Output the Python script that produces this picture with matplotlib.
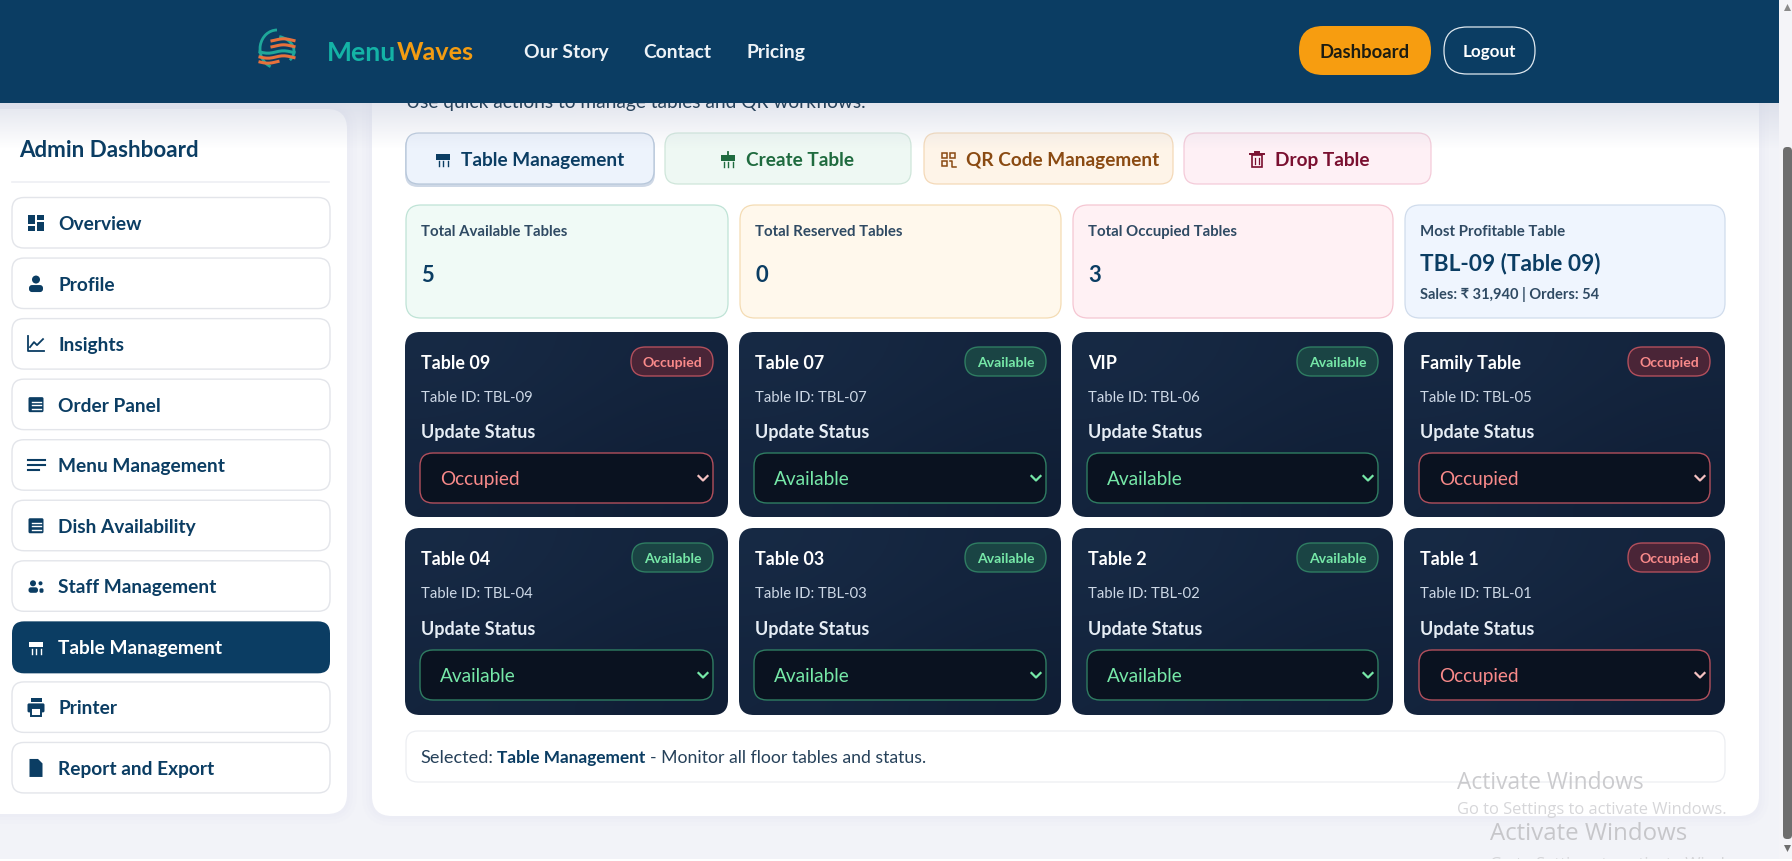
import numpy as np
import matplotlib
matplotlib.use('Agg')
import matplotlib.pyplot as plt
from matplotlib.patches import FancyBboxPatch, Circle, Rectangle, Arc, Polygon

plt.rcParams['font.family'] = ['Lato', 'DejaVu Sans']

# screen content
nav_links = ['Our Story', 'Contact', 'Pricing']
nav_links_x = [524, 643, 746]
side_items = ['Overview', 'Profile', 'Insights', 'Order Panel', 'Menu Management',
              'Dish Availability', 'Staff Management', 'Table Management', 'Printer', 'Report and Export']
side_icons = ['grid', 'person', 'chart', 'doc', 'lines', 'doc', 'staff', 'table', 'printer', 'file']
action_labels = ['Table Management', 'Create Table', 'QR Code Management', 'Drop Table']
stat_labels = ['Total Available Tables', 'Total Reserved Tables', 'Total Occupied Tables']
stat_values = [5, 0, 3]
table_names = ['Table 09', 'Table 07', 'VIP', 'Family Table', 'Table 04', 'Table 03', 'Table 2', 'Table 1']
table_ids = ['TBL-09', 'TBL-07', 'TBL-06', 'TBL-05', 'TBL-04', 'TBL-03', 'TBL-02', 'TBL-01']
table_status = ['Occupied', 'Available', 'Available', 'Occupied', 'Available', 'Available', 'Available', 'Occupied']

NAVY = '#0b3d63'
card_x = [405, 739, 1072, 1404]
card_w = [323, 322, 321, 321]

fig = plt.figure(figsize=(17.92, 8.62), dpi=100, facecolor='#f2f3f8')
ax = fig.add_axes([0, 0, 1, 1])
ax.set_xlim(0, 1792)
ax.set_ylim(862, 0)
ax.axis('off')


def box(x, y, w, h, r, fc, ec='none', lw=0.8, z=2, alpha=None):
    p = FancyBboxPatch((x + r, y + r), w - 2 * r, h - 2 * r,
                       boxstyle='round,pad=%f,rounding_size=%f' % (r, r),
                       fc=fc, ec=ec, lw=lw, zorder=z, alpha=alpha)
    ax.add_patch(p)
    return p


def put(x, y, s, px, color, weight='normal', ha='left', z=6, **kw):
    # px is css font size, 100 dpi so convert to points
    return ax.text(x, y + 1.5, s, fontsize=px * 0.72, color=color, fontweight=weight,
                   ha=ha, va='center', zorder=z, **kw)


def gradient(x, y, w, h, r, c1, c2, z=3):
    # diagonal fill clipped to a rounded card
    clip = box(x, y, w, h, r, 'none', z=z)
    t = np.array([[0.0, 0.5], [0.5, 1.0]])
    a, b = np.array(matplotlib.colors.to_rgb(c1)), np.array(matplotlib.colors.to_rgb(c2))
    rgb = a[None, None, :] * (1 - t[:, :, None]) + b[None, None, :] * t[:, :, None]
    im = ax.imshow(rgb, extent=(x, x + w, y + h, y), interpolation='bicubic', aspect='auto', zorder=z)
    im.set_clip_path(clip)


def table_icon(cx, cy, c, bg, plus=False):
    ax.add_patch(Rectangle((cx - 7, cy - 5), 14, 5.5, fc=c, zorder=7))
    for dx in (-4.5, 0, 4.5):
        ax.plot([cx + dx, cx + dx], [cy + 2, cy + 7], color=c, lw=1.0, zorder=7)
    if plus:
        ax.plot([cx, cx], [cy - 8, cy - 5], color=c, lw=1.3, zorder=7)


def icon(kind, cx, cy, c, bg='white'):
    if kind == 'grid':
        ax.add_patch(Rectangle((cx - 8, cy - 8), 7, 9, fc=c, zorder=7))
        ax.add_patch(Rectangle((cx + 1, cy - 8), 7, 5, fc=c, zorder=7))
        ax.add_patch(Rectangle((cx - 8, cy + 3), 7, 5, fc=c, zorder=7))
        ax.add_patch(Rectangle((cx + 1, cy - 1), 7, 9, fc=c, zorder=7))
    elif kind == 'person':
        ax.add_patch(Circle((cx, cy - 4), 4.0, fc=c, zorder=7))
        box(cx - 7, cy + 1.5, 14, 7, 3, c, z=7)
    elif kind == 'chart':
        ax.plot([cx - 8, cx - 8, cx + 8], [cy - 8, cy + 7, cy + 7], color=c, lw=1.3, zorder=7)
        ax.plot([cx - 6, cx - 2, cx + 1, cx + 7], [cy + 3, cy - 2, cy + 1, cy - 5], color=c, lw=1.3, zorder=7)
    elif kind == 'doc':
        box(cx - 7.5, cy - 7.5, 15, 15, 1.5, c, z=7)
        for dy in (-3, 0.5, 4):
            ax.plot([cx - 4.5, cx + 4.5], [cy + dy, cy + dy], color=bg, lw=1.0, zorder=8)
    elif kind == 'lines':
        for dy, w in ((-5, 17), (0, 17), (5, 11)):
            ax.plot([cx - 8.5, cx - 8.5 + w], [cy + dy, cy + dy], color=c, lw=1.5, zorder=7)
    elif kind == 'staff':
        ax.add_patch(Circle((cx - 3, cy - 3), 3.0, fc=c, zorder=7))
        box(cx - 7.5, cy + 1, 9.5, 5.5, 2.5, c, z=7)
        ax.add_patch(Circle((cx + 4.5, cy - 3), 2.0, fc=c, zorder=7))
        box(cx + 3.5, cy + 2, 4, 4.5, 1.5, c, z=7)
    elif kind == 'table':
        table_icon(cx, cy, c, bg)
    elif kind == 'printer':
        ax.add_patch(Rectangle((cx - 5.5, cy - 9), 11, 4, fc=c, zorder=7))
        box(cx - 8.5, cy - 4, 17, 9, 1.5, c, z=7)
        ax.add_patch(Rectangle((cx - 5, cy + 1), 10, 7.5, fc=bg, ec=c, lw=1.4, zorder=8))
    elif kind == 'file':
        ax.add_patch(Polygon([(cx - 6.5, cy - 9), (cx + 2, cy - 9), (cx + 6.5, cy - 4.5),
                              (cx + 6.5, cy + 9), (cx - 6.5, cy + 9)], fc=c, zorder=7))


# main panels with a soft shadow
for grow, a in ((10, 0.05), (6, 0.07), (3, 0.09)):
    box(-30 - grow, 110 - grow, 377 + 2 * grow, 705 + 2 * grow, 20 + grow, '#dcdff0', z=1, alpha=a)
    box(372 - grow, 60 - grow, 1387 + 2 * grow, 757 + 2 * grow, 20 + grow, '#dcdff0', z=1, alpha=a)
box(-30, 110, 377, 705, 20, 'white', z=2)
box(372, 60, 1387, 757, 20, 'white', z=2)

# shadow under the header
shade = np.linspace(0, 1, 40)[:, None]
ax.imshow(np.dstack([np.full((40, 1), 0.80), np.full((40, 1), 0.82), np.full((40, 1), 0.88), 0.55 * (1 - shade)]),
          extent=(0, 1779, 150, 104), aspect='auto', zorder=5, interpolation='bilinear')

# header
ax.add_patch(Rectangle((0, 0), 1779, 104, fc=NAVY, zorder=20))
ax.add_patch(Arc((277, 50), 34, 38, theta1=110, theta2=270, ec='#1fa79a', lw=2.0, zorder=21))
ax.add_patch(Arc((274, 52), 40, 30, theta1=-70, theta2=30, ec='#1fa79a', lw=2.0, zorder=21))
for i, (yy, c) in enumerate(zip([41, 47, 53, 58, 63], ['#e8713c', '#e8713c', '#1fa79a', '#e8713c', '#e8713c'])):
    xs = np.linspace(272 if i < 2 else 260, 294 if i < 4 else 278, 12)
    ax.plot(xs, yy + 1.2 * np.sin((xs - 260) / 5), color=c, lw=2.2, zorder=21)
ax.text(327, 53, 'Menu', fontsize=26.5 * 0.72, color='#14b3a6', fontweight='bold', va='center', zorder=21)
ax.text(396.5, 53, 'Waves', fontsize=25.2 * 0.72, color='#f39c12', fontweight='bold', va='center', zorder=21)
for lab, x in zip(nav_links, nav_links_x):
    put(x, 51, lab, 19.3, '#eef3f7', 'bold', z=21)
box(1299, 27, 132, 49, 24, '#f79d10', z=21)
put(1365, 51, 'Dashboard', 18.5, '#1c1c12', 'bold', ha='center', z=22)
box(1444, 28, 91, 47, 23, 'none', ec='#dfe8ef', lw=0.9, z=21)
put(1489, 50, 'Logout', 17, 'white', 'bold', ha='center', z=22)

# scrollbar
ax.add_patch(Rectangle((1779, 0), 13, 862, fc='#f4f4f8', zorder=21))
box(1783, 148, 9, 692, 4, '#6e6e6e', z=22)
ax.add_patch(Polygon([(1784, 12), (1791, 12), (1787.5, 5)], fc='#8a8a8a', zorder=22))
ax.add_patch(Polygon([(1784, 846), (1791, 846), (1787.5, 853)], fc='#6e6e6e', zorder=22))
ax.add_patch(Rectangle((0, 860), 1792, 2, fc='white', zorder=21))

# sidebar
put(19, 149, 'Admin Dashboard', 22.4, NAVY, 'bold')
ax.plot([12, 329], [183, 183], color='#eeeff3', lw=1.2, zorder=4)
for i, (lab, kind) in enumerate(zip(side_items, side_icons)):
    top = 198.5 + 60.55 * i
    active = lab == 'Table Management'
    if active:
        box(12, top, 318, 52, 12, NAVY, z=4)
    else:
        box(12, top, 318, 50.5, 12, 'white', ec='#e3e5ea', lw=1.0, z=4)
    col = 'white' if active else NAVY
    icon(kind, 36, top + 25.5, col, NAVY if active else 'white')
    put(58.5, top + 24.5, lab, 19.1, col, 'bold')

# quick action row
put(406, 101, 'Use quick actions to manage tables and QR workflows.', 19.1, '#26415a', z=5)
btn_x = [406, 665, 924, 1184]
btn_w = [248, 246, 249, 247]
btn_fc = ['#edf3fc', '#eef8f3', '#fef4e8', '#fef0f5']
btn_ec = ['#b7c7da', '#cfe6da', '#f4d9b8', '#f4cbd9']
btn_tc = [NAVY, '#1f6b3f', '#8a4a12', '#7a1030']
btn_ix = [443, 728, 948, 1257]
btn_tx = [461, 746, 966, 1275]
box(405, 135, 250, 53, 13, '#ced8e6', z=3)
for x, w, fc, ec, tc, ix, tx, lab in zip(btn_x, btn_w, btn_fc, btn_ec, btn_tc, btn_ix, btn_tx, action_labels):
    box(x, 134, w, 51, 13, fc, ec=ec, lw=0.9, z=4)
    put(tx, 159, lab, 19.0, tc, 'bold')
    if lab == 'Table Management':
        table_icon(ix, 160, tc, fc)
    elif lab == 'Create Table':
        table_icon(ix, 161, tc, fc, plus=True)
    elif lab.startswith('QR'):
        for dx, dy in ((-5, -5), (3, -5), (-5, 3)):
            ax.add_patch(Rectangle((ix + dx - 1, 160 + dy - 1), 5, 5, fc='none', ec=tc, lw=1.1, zorder=7))
        ax.plot([ix + 2, ix + 4, ix + 4, ix + 8], [162, 162, 168, 168], color=tc, lw=1.1, zorder=7)
    else:
        ax.add_patch(Rectangle((ix - 5, 156), 10, 12, fc='none', ec=tc, lw=1.2, zorder=7))
        ax.plot([ix - 7, ix + 7], [155, 155], color=tc, lw=1.4, zorder=7)
        ax.plot([ix - 2, ix + 2], [152.5, 152.5], color=tc, lw=1.4, zorder=7)
        for dx in (-2, 2):
            ax.plot([ix + dx, ix + dx], [159, 165], color=tc, lw=0.9, zorder=7)

# stat cards
stat_fc = ['#f0faf6', '#fff8ec', '#fff1f4', '#eff5fe']
stat_ec = ['#bfe3d6', '#f4dcb4', '#f5c6d2', '#d0dcec']
for i in range(4):
    box(card_x[i] + 1, 206, card_w[i] - 1, 113, 15, stat_fc[i], ec=stat_ec[i], lw=0.9, z=4)
for i in range(3):
    put(card_x[i] + 16, 230.5, stat_labels[i], 15.0, '#2f4a63', 'bold')
    put(card_x[i] + 16, 274, str(stat_values[i]), 22, NAVY, 'bold')
put(1420, 230.5, 'Most Profitable Table', 15.0, '#2f4a63', 'bold')
put(1420, 262, 'TBL-09 (Table 09)', 22.6, NAVY, 'bold')
put(1420, 293, 'Sales: ₹ 31,940 | Orders: 54', 14.6, '#2f4a63', 'bold')

# table cards
for i in range(8):
    col, row = i % 4, i // 4
    x, w = card_x[col], card_w[col]
    y = 333 if row == 0 else 529
    h = 185 if row == 0 else 187
    occupied = table_status[i] == 'Occupied'
    main = '#f98a8a' if occupied else '#76e8a8'
    border = '#b24f5c' if occupied else '#2f7d62'
    gradient(x, y, w, h, 15, '#172a45', '#101e35')
    put(x + 16, y + 29.5, table_names[i], 17.9, 'white', 'bold')
    bw = 82 if occupied else 81
    bx = x + w - 15 - bw
    box(bx, y + 15, bw, 29, 14.5, '#4a2537' if occupied else '#1a4444', ec=border, lw=1.0, z=5)
    put(bx + bw / 2, y + 29, table_status[i], 14, main, 'bold', ha='center')
    put(x + 16, y + 63.5, 'Table ID: ' + table_ids[i], 14.9, '#cdd8e6')
    put(x + 16, y + 98.5 + row, 'Update Status', 18, '#e6edf5', 'bold')
    sy = y + 121 if row == 0 else y + 122
    box(x + 15, sy, w - 30, 50, 13, '#0a1220', ec=border, lw=1.0, z=5)
    put(x + 35, sy + 24, table_status[i], 19.0, main)
    cx = x + w - 25
    ax.plot([cx - 4.5, cx, cx + 4.5], [sy + 23, sy + 27.5, sy + 23], color=main if not occupied else '#f5c2c2',
            lw=1.6, zorder=7)

# selected panel
box(406, 732, 1319, 51, 12, 'white', ec='#eceef2', lw=0.9, z=4)
put(420, 757, 'Selected:', 18.1, '#26415a')
put(497, 757, 'Table Management', 17.3, NAVY, 'bold')
put(650, 757, '- Monitor all floor tables and status.', 17.6, '#26415a')

# windows watermark
wm = {'family': ['Open Sans', 'DejaVu Sans'], 'alpha': 0.9, 'clip_on': True}
put(1457, 782, 'Activate Windows', 22.7, '#c6c6c9', z=30, **wm)
put(1457, 809, 'Go to Settings to activate Windows.', 16.5, '#d2d2d5', z=30, **wm)
put(1490, 833, 'Activate Windows', 24, '#c2c2c5', z=30, **wm)
put(1490, 864, 'Go to Settings to activate Windows.', 16.5, '#d2d2d5', z=20, **wm)

ax.set_xlim(0, 1792)
ax.set_ylim(862, 0)
fig.savefig('out.png', dpi=100, facecolor=fig.get_facecolor())
